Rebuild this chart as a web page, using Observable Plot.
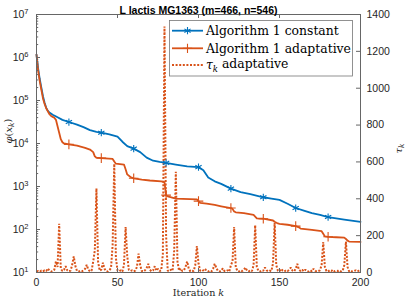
<!DOCTYPE html>
<html><head><meta charset="utf-8">
<script src="https://cdn.jsdelivr.net/npm/d3@7"></script>
<script src="https://cdn.jsdelivr.net/npm/@observablehq/plot@0.6"></script>
<style>body{margin:0;background:#fff}</style>
</head><body><div id="chart"></div>
<script>
const title = "L lactis MG1363 (m=466, n=546)";
const seriesNames = ["Algorithm 1 constant", "Algorithm 1 adaptative", "adaptative"];
const xTicks = [0, 50, 100, 150, 200];
const yTicks = [1e1, 1e2, 1e3, 1e4, 1e5, 1e6, 1e7];
const tauTicks = [0, 200, 400, 600, 800, 1000, 1200, 1400];
const markerIters = [20, 40, 60, 80, 100, 120, 140, 160, 180];

const constIter = [0,1,2,3,4,5,6,7,8,10,13,16,20,25,29,33,37,40,45,50,53,56,60,64,68,72,76,80,86,93,100,103,106,110,114,120,126,132,140,145,150,155,160,165,170,175,180,190,200];
const constVals = [1.17e6,5.62e5,3.16e5,2.00e5,1.26e5,8.91e4,6.76e4,5.75e4,5.25e4,4.68e4,4.07e4,3.55e4,3.16e4,2.75e4,2.40e4,2.04e4,1.86e4,1.78e4,1.62e4,1.45e4,1.10e4,8710,7590,6310,4680,3980,3720,3550,3240,2950,2820,2400,1620,1320,1150,891,741,661,562,525,490,398,316,275,240,219,195,170,151];

const adaptIter = [0,1,2,3,4,5,6,7,8,9,10,11,12,13,14,15,16,17,20,25,30,33,35,36,37,40,47,48,49,54,55,56,58,60,65,70,77,79,80,81,86,99,100,101,105,110,114,120,121,122,123,128,134,135,136,140,146,147,149,150,155,160,162,163,170,176,177,178,180,185,190,191,192,193,200];
const adaptVals = [1.17e6,5.01e5,2.82e5,1.78e5,1.12e5,8.32e4,6.61e4,5.62e4,4.79e4,4.37e4,4.17e4,3.98e4,3.55e4,2.51e4,1.78e4,1.26e4,1.07e4,1.00e4,9550,8910,7940,7240,6310,5010,4680,4570,4370,3800,3390,3240,2510,1910,1660,1550,1450,1380,1320,1260,631,589,525,501,457,417,398,372,347,316,302,263,251,240,219,200,182,178,162,151,138,135,129,120,112,105,97.7,91.2,79.4,69.2,67.6,66.1,64.6,60.3,55.0,52.5,51.3];

const tauIter = d3.range(0, 201);
const tauVals = [
 5,8,4,10,6,12,8,22,10,5, 8,15,60,30,265,20,8,15,34,12,
 6,10,40,87,35,8,5,10,6,12, 20,42,15,6,10,60,120,456,60,10,
 15,53,20,8,5,12,25,150,590,80, 10,6,12,5,40,247,90,15,8,12,
 6,10,30,102,40,8,5,12,25,47, 15,6,12,34,10,20,8,12,100,1335,
 200,10,6,15,10,120,546,60,10,22, 8,12,30,60,20,6,10,8,40,143,
 50,10,6,12,20,8,5,10,6,20, 47,25,8,5,10,22,8,6,12,5,
 40,60,247,30,8,5,12,8,15,27, 10,6,12,8,40,256,30,8,5,12,
 10,27,12,6,10,8,50,270,40,10, 6,20,10,5,12,8,15,27,10,6,
 20,47,15,8,15,6,15,8,5,12, 6,20,10,5,8,12,40,165,30,8,
 5,12,8,15,6,10,8,12,5,10, 40,168,30,6,10,5,8,12,6,10,
 15];

const blue = "#0072BD", red = "#D95319", axisCol = "#666666", txtCol = "#262626";
const W = 407, H = 300, mt = 14, mb = 28, ml = 36, mr = 47;
const innerH = H - mt - mb, innerW = W - ml - mr;
const tauMax = 1400;
const tauToY = t => 10 ** (1 + 6 * t / tauMax);

const yMinor = [];
for (let e = 1; e < 7; e++) for (let m = 2; m <= 9; m++) yMinor.push(m * 10 ** e);

const constAt = k => constVals[constIter.indexOf(k)];
const adaptAt = k => adaptVals[adaptIter.indexOf(k)];
const dotted = "2 1.6";

const plot = Plot.plot({
  width: W, height: H,
  marginTop: mt, marginBottom: mb, marginLeft: ml, marginRight: mr,
  style: {fontFamily: "'Liberation Sans', Arial, sans-serif", fontSize: "10.5px", color: txtCol, background: "white", overflow: "visible"},
  x: {domain: [0, 200]},
  y: {type: "log", domain: [10, 1e7]},
  marks: [
    Plot.line(tauIter, {x: d => d, y: (d, i) => tauToY(tauVals[i]), stroke: red, strokeWidth: 2, strokeDasharray: dotted, strokeLinecap: "butt", strokeLinejoin: "miter"}),
    Plot.line(constIter, {x: d => d, y: (d, i) => constVals[i], stroke: blue, strokeWidth: 1.8}),
    Plot.dot(markerIters, {x: d => d, y: d => constAt(d), symbol: "asterisk", r: 3.4, stroke: blue, strokeWidth: 1.1}),
    Plot.line(adaptIter, {x: d => d, y: (d, i) => adaptVals[i], stroke: red, strokeWidth: 1.8}),
    Plot.dot(markerIters, {x: d => d, y: d => adaptAt(d), symbol: "plus", r: 3.2, stroke: red, strokeWidth: 1.1}),
    Plot.frame({stroke: axisCol, strokeWidth: 1}),
    Plot.tickX(xTicks, {x: d => d, insetTop: innerH - 4, stroke: axisCol}),
    Plot.tickX(xTicks, {x: d => d, insetBottom: innerH - 4, stroke: axisCol}),
    Plot.tickY(yTicks, {y: d => d, insetRight: innerW - 4, stroke: axisCol}),
    Plot.tickY(yMinor, {y: d => d, insetRight: innerW - 2.2, stroke: axisCol}),
    Plot.tickY(tauTicks, {y: d => tauToY(d), insetLeft: innerW - 4, stroke: axisCol}),
    Plot.axisX(xTicks, {anchor: "bottom", tickSize: 0, tickPadding: 6, label: null, tickFormat: d => String(d)}),
    Plot.axisY(yTicks, {anchor: "left", tickSize: 0, tickPadding: 8, label: null, tickFormat: d => "10^" + Math.round(Math.log10(d))}),
    Plot.text(tauTicks, {y: d => tauToY(d), text: d => String(d), frameAnchor: "right", dx: 6, textAnchor: "start", fill: txtCol}),
    Plot.text([title], {text: d => d, frameAnchor: "top", dy: -8, fontWeight: "bold", fontSize: 10.5, fill: "#000"}),
    Plot.text(["Iteration k"], {text: d => d, frameAnchor: "bottom", dy: 23.5, fontFamily: "DejaVu Serif", fontSize: 9.6, fill: txtCol}),
    Plot.text(["phi(xk)"], {text: d => d, frameAnchor: "left", dx: -28, rotate: -90, fontFamily: "DejaVu Serif", fontSize: 10, fill: txtCol}),
    Plot.text(["tauk"], {text: d => d, frameAnchor: "right", dx: 38, rotate: -90, fontFamily: "DejaVu Serif", fontSize: 10, fill: txtCol})
  ]
});

const svg = d3.select(plot);
svg.selectAll("text").each(function () {
  const el = d3.select(this);
  const t = this.textContent;
  let m;
  if ((m = /^10\^(\d)$/.exec(t))) {
    el.text(null);
    el.append("tspan").text("10");
    el.append("tspan").attr("dy", "-0.5em").attr("font-size", "7.5px").text(m[1]);
  } else if (t === "Iteration k") {
    el.text(null);
    el.append("tspan").text("Iteration ");
    el.append("tspan").attr("font-style", "italic").text("k");
  } else if (t === "phi(xk)") {
    el.text(null);
    el.append("tspan").attr("font-style", "italic").text("φ");
    el.append("tspan").text("(");
    el.append("tspan").attr("font-style", "italic").text("x");
    el.append("tspan").attr("font-style", "italic").attr("font-size", "7.5px").attr("dy", "0.3em").text("k");
    el.append("tspan").attr("dy", "-0.3em").text(")");
  } else if (t === "tauk") {
    el.text(null);
    el.append("tspan").attr("font-style", "italic").text("τ");
    el.append("tspan").attr("font-style", "italic").attr("font-size", "7.5px").attr("dy", "0.3em").text("k");
  }
});

// legend
const lg = svg.append("g").attr("font-family", "'DejaVu Serif', serif").attr("font-size", "12.4px").attr("fill", "#000").attr("text-anchor", "start");
lg.append("rect").attr("x", 169.5).attr("y", 20.5).attr("width", 183).attr("height", 55.5)
  .attr("fill", "white").attr("stroke", "#777").attr("stroke-width", 0.8);
const rows = [30.7, 48.3, 65];
const lx1 = 172, lx2 = 203, lxm = 187.5, tx = 206;
lg.append("line").attr("x1", lx1).attr("x2", lx2).attr("y1", rows[0]).attr("y2", rows[0]).attr("stroke", blue).attr("stroke-width", 1.8);
lg.append("path").attr("d", d3.symbol(d3.symbolAsterisk, 36)()).attr("transform", `translate(${lxm},${rows[0]})`).attr("fill", "none").attr("stroke", blue).attr("stroke-width", 1.1);
lg.append("line").attr("x1", lx1).attr("x2", lx2).attr("y1", rows[1]).attr("y2", rows[1]).attr("stroke", red).attr("stroke-width", 1.8);
lg.append("path").attr("d", d3.symbol(d3.symbolPlus, 30)()).attr("transform", `translate(${lxm},${rows[1]})`).attr("fill", "none").attr("stroke", red).attr("stroke-width", 1.1);
lg.append("line").attr("x1", lx1).attr("x2", lx2).attr("y1", rows[2]).attr("y2", rows[2]).attr("stroke", red).attr("stroke-width", 2).attr("stroke-dasharray", dotted);
lg.append("text").attr("x", tx).attr("y", rows[0] + 4.3).attr("text-anchor", "start").text(seriesNames[0]);
lg.append("text").attr("x", tx).attr("y", rows[1] + 4.3).attr("text-anchor", "start").text(seriesNames[1]);
const t3 = lg.append("text").attr("x", tx).attr("y", rows[2] + 4.3).attr("text-anchor", "start");
t3.append("tspan").attr("font-style", "italic").text("τ");
t3.append("tspan").attr("font-style", "italic").attr("font-size", "8.5px").attr("dy", "0.3em").text("k");
t3.append("tspan").attr("dy", "-0.3em").text(" " + seriesNames[2]);

document.getElementById("chart").appendChild(plot);
</script>
</body></html>
